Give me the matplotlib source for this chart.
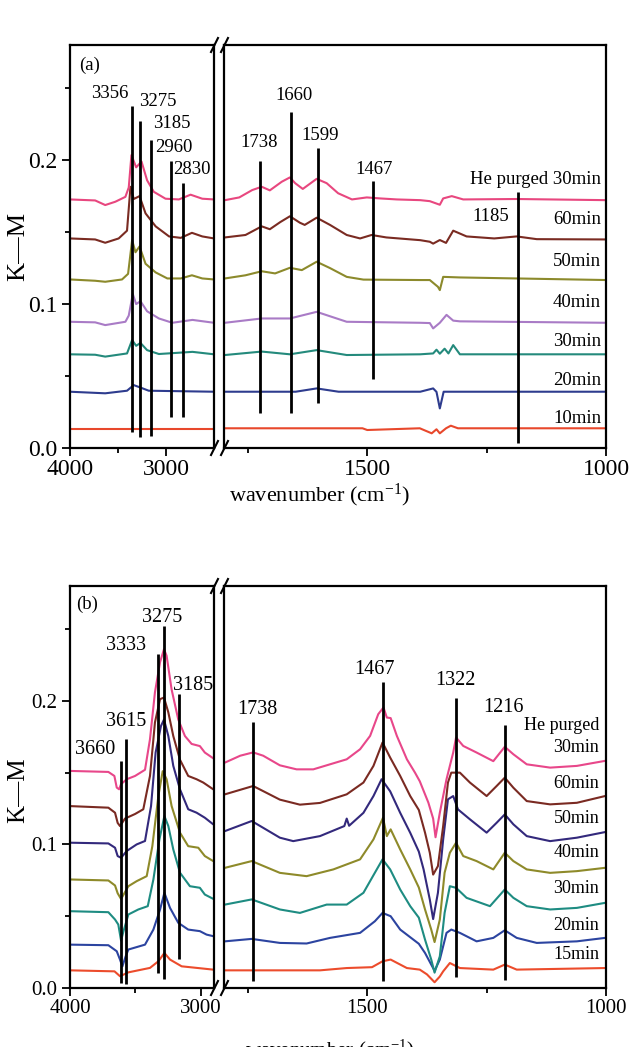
import matplotlib
matplotlib.use('Agg')
import matplotlib.pyplot as plt
from matplotlib.lines import Line2D
from matplotlib.ticker import FixedLocator

plt.rcParams['font.family'] = ['Liberation Serif', 'DejaVu Serif']
plt.rcParams['mathtext.fontset'] = 'custom'
plt.rcParams['mathtext.rm'] = 'Liberation Serif'
plt.rcParams['mathtext.it'] = 'Liberation Serif:italic'

# ---------------- panel (a) data ----------------
a_he_x = [4000, 3738, 3633, 3528, 3423, 3388, 3360, 3311, 3255, 3197, 3127, 3005, 2866, 2744, 2622, 2500,
          1798, 1768, 1741, 1721, 1704, 1679, 1662, 1651, 1635, 1606, 1585, 1561, 1532, 1501, 1473, 1438,
          1389, 1369, 1348, 1341, 1323, 1299, 1187, 1000]
a_he_y = [0.1727, 0.1720, 0.1688, 0.1711, 0.1745, 0.1810, 0.2035, 0.1950, 0.1990, 0.1860, 0.1780, 0.1732,
          0.1727, 0.1760, 0.1732, 0.1727,
          0.1722, 0.1741, 0.1792, 0.1815, 0.1790, 0.1850, 0.1880, 0.1840, 0.1800, 0.1870, 0.1840, 0.1770,
          0.1727, 0.1741, 0.1734, 0.1727, 0.1722, 0.1715, 0.1690, 0.1734, 0.1750, 0.1727, 0.1730, 0.1722]

a_60_x = [4000, 3738, 3633, 3493, 3406, 3370, 3336, 3276, 3213, 3108, 2968, 2846, 2730, 2622, 2500,
          1798, 1755, 1721, 1704, 1682, 1662, 1641, 1631, 1606, 1578, 1543, 1515, 1491, 1460, 1389,
          1369, 1362, 1348, 1335, 1320, 1292, 1234, 1187, 1145, 1000]
a_60_y = [0.1456, 0.1449, 0.1426, 0.1456, 0.1510, 0.1815, 0.1730, 0.1750, 0.1630, 0.1540, 0.1470, 0.1460,
          0.1495, 0.1470, 0.1456,
          0.1463, 0.1480, 0.1540, 0.1520, 0.1570, 0.1610, 0.1565, 0.1550, 0.1600, 0.1550, 0.1480, 0.1456,
          0.1480, 0.1463, 0.1444, 0.1433, 0.1420, 0.1445, 0.1425, 0.1510, 0.1470, 0.1456, 0.1470, 0.1451,
          0.1449]

a_50_x = [4000, 3738, 3633, 3458, 3395, 3353, 3318, 3276, 3213, 3108, 2986, 2846, 2730, 2622, 2500,
          1798, 1755, 1721, 1693, 1662, 1637, 1606, 1578, 1543, 1508, 1389, 1369, 1352, 1348, 1341, 1306,
          1000]
a_50_y = [0.1171, 0.1162, 0.1155, 0.1171, 0.1210, 0.1444, 0.1360, 0.1400, 0.1280, 0.1220, 0.1178, 0.1178,
          0.1200, 0.1178, 0.1171,
          0.1178, 0.1200, 0.1228, 0.1213, 0.1252, 0.1236, 0.1294, 0.1250, 0.1189, 0.1170, 0.1167, 0.1167,
          0.1120, 0.1097, 0.1189, 0.1185, 0.1167]

a_40_x = [4000, 3738, 3633, 3423, 3388, 3346, 3311, 3266, 3197, 3074, 2934, 2724, 2500,
          1798, 1721, 1662, 1606, 1543, 1389, 1369, 1362, 1348, 1334, 1320, 1306, 1000]
a_40_y = [0.0877, 0.0873, 0.0854, 0.0877, 0.0920, 0.1070, 0.1000, 0.1020, 0.0950, 0.0900, 0.0870, 0.0890,
          0.0870,
          0.0870, 0.0900, 0.0900, 0.0946, 0.0877, 0.0870, 0.0868, 0.0831, 0.0870, 0.0925, 0.0885, 0.0880,
          0.0870]

a_30_x = [4000, 3738, 3633, 3406, 3353, 3311, 3266, 3197, 3074, 2724, 2500,
          1798, 1721, 1662, 1606, 1543, 1389, 1362, 1355, 1348, 1338, 1330, 1320, 1306, 1000]
a_30_y = [0.0651, 0.0648, 0.0635, 0.0657, 0.0750, 0.0710, 0.0730, 0.0680, 0.0653, 0.0668, 0.0651,
          0.0646, 0.0670, 0.0651, 0.0680, 0.0646, 0.0651, 0.0657, 0.0683, 0.0655, 0.0690, 0.0657, 0.0715,
          0.0651, 0.0651]

a_20_x = [4000, 3633, 3406, 3336, 3266, 3180, 2500,
          1798, 1650, 1606, 1560, 1389, 1362, 1355, 1348, 1340, 1000]
a_20_y = [0.0391, 0.0380, 0.0398, 0.0437, 0.0420, 0.0398, 0.0391,
          0.0391, 0.0391, 0.0414, 0.0391, 0.0391, 0.0414, 0.0390, 0.0275, 0.0391, 0.0391]

a_10_x = [4000, 2500, 1800, 1510, 1500, 1390, 1365, 1355, 1348, 1335, 1325, 1310, 1000]
a_10_y = [0.0132, 0.0132, 0.0137, 0.0137, 0.0125, 0.0137, 0.0102, 0.0130, 0.0102, 0.0137, 0.0155, 0.0137,
          0.0137]

a_series_x = [a_10_x, a_20_x, a_30_x, a_40_x, a_50_x, a_60_x, a_he_x]
a_series_y = [a_10_y, a_20_y, a_30_y, a_40_y, a_50_y, a_60_y, a_he_y]
a_colors = ['#E8482C', '#2E3C8E', '#248A7C', '#A97BC6', '#8C8A2C', '#7A2B22', '#E8477F']
a_names = ['10min', '20min', '30min', '40min', '50min', '60min', 'He purged 30min']
a_name_y = [0.0206, 0.0468, 0.0743, 0.1012, 0.1294, 0.159, 0.1868]

# peak marker lines: position, bottom, top, label, label position
a_peak_left = [3353, 3266, 3161, 2944, 2818]
a_peak_left_lo = [0.0113, 0.0078, 0.0085, 0.0213, 0.0213]
a_peak_left_hi = [0.2375, 0.2270, 0.2140, 0.1995, 0.1840]
a_peak_left_lab = ['3356', '3275', '3185', '2960', '2830']
a_peak_left_lx = [3591, 3082, 2944, 2920, 2728]
a_peak_left_ly = [0.246, 0.241, 0.2255, 0.2088, 0.1935]

a_peak_right = [1724, 1660, 1603, 1488, 1184]
a_peak_right_lo = [0.0245, 0.0241, 0.0310, 0.0477, 0.0032]
a_peak_right_hi = [0.1993, 0.2336, 0.2085, 0.1854, 0.1780]
a_peak_right_lab = ['1738', '1660', '1599', '1467', '1185']
a_peak_right_lx = [1726, 1654, 1598, 1486, 1242]
a_peak_right_ly = [0.212, 0.2447, 0.2174, 0.1938, 0.1606]

# ---------------- panel (b) data ----------------
b_he_x = [4000, 3707, 3661, 3643, 3625, 3610, 3567, 3503, 3427, 3389, 3351, 3312, 3282, 3262, 3224, 3173,
          3122, 3071, 3008, 2970, 2906,
          1798, 1766, 1739, 1718, 1683, 1648, 1613, 1578, 1543, 1515, 1494, 1477, 1466, 1459, 1451, 1438,
          1417, 1400, 1390, 1372, 1362, 1357, 1348, 1334, 1320, 1314, 1299, 1271, 1236, 1212, 1194, 1166,
          1117, 1061, 1002]
b_he_y = [0.1512, 0.1505, 0.1477, 0.1396, 0.1384, 0.1420, 0.1454, 0.1477, 0.1520, 0.1733, 0.2060, 0.2270,
          0.2360, 0.2314, 0.2080, 0.1870, 0.1755, 0.1700, 0.1685, 0.1640, 0.1600,
          0.1570, 0.1618, 0.1641, 0.1618, 0.1551, 0.1523, 0.1523, 0.1558, 0.1593, 0.1663, 0.1756, 0.1907,
          0.1954, 0.1884, 0.1880, 0.1756, 0.1593, 0.1500, 0.1440, 0.1291, 0.1180, 0.1050, 0.1221, 0.1454,
          0.1640, 0.1745, 0.1686, 0.1640, 0.1580, 0.1680, 0.1628, 0.1558, 0.1535, 0.1547, 0.1582]

b_60_x = [4000, 3707, 3656, 3636, 3618, 3580, 3503, 3440, 3389, 3351, 3312, 3282, 3249, 3211, 3160, 3097,
          3033, 2982, 2906,
          1798, 1739, 1683, 1641, 1599, 1543, 1508, 1487, 1468, 1452, 1431, 1410, 1392, 1379, 1369, 1362,
          1352, 1341, 1331, 1324, 1306, 1285, 1250, 1229, 1212, 1194, 1166, 1117, 1061, 1002]
b_60_y = [0.1267, 0.1256, 0.1221, 0.1150, 0.1128, 0.1180, 0.1212, 0.1245, 0.1477, 0.1850, 0.2012, 0.2023,
          0.1920, 0.1755, 0.1590, 0.1477, 0.1454, 0.1431, 0.1384,
          0.1349, 0.1407, 0.1312, 0.1277, 0.1289, 0.1349, 0.1431, 0.1547, 0.1710, 0.1605, 0.1477, 0.1337,
          0.1240, 0.1082, 0.0942, 0.0790, 0.0849, 0.1128, 0.1431, 0.1500, 0.1500, 0.1431, 0.1337, 0.1407,
          0.1465, 0.1395, 0.1302, 0.1279, 0.1290, 0.1337]

b_50_x = [4000, 3707, 3656, 3636, 3610, 3567, 3491, 3427, 3381, 3346, 3305, 3282, 3249, 3211, 3160, 3097,
          3033, 2970, 2906,
          1798, 1742, 1683, 1655, 1599, 1548, 1543, 1538, 1508, 1487, 1470, 1452, 1431, 1410, 1392, 1382,
          1369, 1362, 1352, 1341, 1331, 1320, 1310, 1285, 1250, 1229, 1212, 1194, 1166, 1117, 1061, 1002]
b_50_y = [0.1012, 0.1007, 0.0977, 0.0919, 0.0907, 0.0954, 0.1000, 0.1024, 0.1267, 0.1640, 0.1825, 0.1870,
          0.1755, 0.1547, 0.1384, 0.1245, 0.1221, 0.1186, 0.1140,
          0.1093, 0.1163, 0.1047, 0.1023, 0.1058, 0.1128, 0.1180, 0.1130, 0.1220, 0.1337, 0.1454, 0.1370,
          0.1220, 0.1081, 0.0950, 0.0826, 0.0616, 0.0480, 0.0663, 0.1035, 0.1314, 0.1337, 0.1244, 0.1175,
          0.1082, 0.1151, 0.1209, 0.1140, 0.1058, 0.1023, 0.1047, 0.1086]

b_40_x = [4000, 3707, 3656, 3636, 3610, 3554, 3491, 3414, 3371, 3325, 3292, 3262, 3224, 3160, 3097, 3020,
          2970, 2906,
          1798, 1742, 1683, 1627, 1571, 1515, 1487, 1467, 1459, 1451, 1431, 1410, 1392, 1379, 1366, 1359,
          1348, 1338, 1327, 1314, 1299, 1271, 1236, 1212, 1194, 1166, 1117, 1061, 1002]
b_40_y = [0.0756, 0.0749, 0.0714, 0.0660, 0.0620, 0.0709, 0.0744, 0.0779, 0.0988, 0.1337, 0.1510, 0.1454,
          0.1268, 0.1082, 0.0988, 0.0977, 0.0919, 0.0884,
          0.0837, 0.0884, 0.0802, 0.0779, 0.0826, 0.0896, 0.1035, 0.1186, 0.1058, 0.1105, 0.0965, 0.0826,
          0.0700, 0.0547, 0.0407, 0.0320, 0.0477, 0.0803, 0.0942, 0.1012, 0.0919, 0.0884, 0.0826, 0.0942,
          0.0884, 0.0826, 0.0802, 0.0814, 0.0837]

b_30_x = [4000, 3707, 3656, 3631, 3610, 3590, 3554, 3478, 3406, 3363, 3317, 3279, 3249, 3211, 3160, 3084,
          3008, 2970, 2906,
          1798, 1742, 1683, 1641, 1585, 1543, 1508, 1484, 1468, 1452, 1431, 1410, 1392, 1379, 1366, 1359,
          1348, 1338, 1327, 1314, 1292, 1243, 1212, 1194, 1166, 1117, 1061, 1002]
b_30_y = [0.0535, 0.0528, 0.0477, 0.0442, 0.0330, 0.0400, 0.0512, 0.0547, 0.0570, 0.0756, 0.1035, 0.1198,
          0.1128, 0.0965, 0.0803, 0.0709, 0.0698, 0.0651, 0.0621,
          0.0581, 0.0617, 0.0547, 0.0523, 0.0581, 0.0581, 0.0663, 0.0803, 0.0896, 0.0826, 0.0686, 0.0570,
          0.0490, 0.0337, 0.0198, 0.0107, 0.0221, 0.0523, 0.0709, 0.0698, 0.0628, 0.0570, 0.0686, 0.0628,
          0.0570, 0.0547, 0.0558, 0.0593]

b_20_x = [4000, 3707, 3643, 3618, 3600, 3575, 3554, 3427, 3363, 3312, 3279, 3236, 3173, 3097, 3008, 2957,
          2906,
          1798, 1742, 1683, 1627, 1578, 1515, 1484, 1468, 1451, 1431, 1392, 1379, 1366, 1359, 1348, 1334,
          1324, 1306, 1271, 1236, 1212, 1187, 1145, 1061, 1002]
b_20_y = [0.0302, 0.0298, 0.0256, 0.0198, 0.0150, 0.0220, 0.0268, 0.0302, 0.0407, 0.0547, 0.0663, 0.0558,
          0.0454, 0.0407, 0.0396, 0.0372, 0.0361,
          0.0325, 0.0342, 0.0314, 0.0310, 0.0349, 0.0384, 0.0465, 0.0523, 0.0500, 0.0407, 0.0308, 0.0244,
          0.0163, 0.0120, 0.0198, 0.0384, 0.0407, 0.0384, 0.0325, 0.0349, 0.0402, 0.0349, 0.0314, 0.0325,
          0.0349]

b_15_x = [4000, 3660, 3618, 3554, 3389, 3325, 3279, 3236, 3147, 2906,
          1798, 1599, 1543, 1490, 1468, 1451, 1417, 1390, 1375, 1359, 1348, 1341, 1327, 1306, 1236, 1212,
          1187, 1002]
b_15_y = [0.0123, 0.0116, 0.0082, 0.0109, 0.0140, 0.0186, 0.0244, 0.0198, 0.0151, 0.0128,
          0.0123, 0.0123, 0.0139, 0.0145, 0.0186, 0.0198, 0.0139, 0.0128, 0.0095, 0.0040, 0.0080, 0.0116,
          0.0174, 0.0139, 0.0128, 0.0163, 0.0128, 0.0139]

b_series_x = [b_15_x, b_20_x, b_30_x, b_40_x, b_50_x, b_60_x, b_he_x]
b_series_y = [b_15_y, b_20_y, b_30_y, b_40_y, b_50_y, b_60_y, b_he_y]
b_colors = ['#EC4C2C', '#2C44A0', '#1E8C82', '#8E8A2A', '#33297C', '#7A2A22', '#E8478A']
b_names = ['15min', '20min', '30min', '40min', '50min', '60min', '30min', 'He purged']
b_name_y = [0.0232, 0.0435, 0.0691, 0.0942, 0.118, 0.1426, 0.1675, 0.1826]

b_peak_left = [3613, 3575, 3329, 3282, 3167]
b_peak_left_lo = [0.0035, 0.0030, 0.0105, 0.0063, 0.0202]
b_peak_left_hi = [0.1580, 0.1733, 0.2326, 0.2523, 0.2047]
b_peak_left_lab = ['3660', '3615', '3333', '3275', '3185']
b_peak_left_lx = [3809, 3570, 3576, 3296, 3062]
b_peak_left_ly = [0.1658, 0.1853, 0.2389, 0.258, 0.211]

b_peak_right = [1739, 1466, 1314, 1212]
b_peak_right_lo = [0.0047, 0.0047, 0.0077, 0.0058]
b_peak_right_hi = [0.1850, 0.2133, 0.2017, 0.1830]
b_peak_right_lab = ['1738', '1467', '1322', '1216']
b_peak_right_lx = [1730, 1484, 1316, 1215]
b_peak_right_ly = [0.1937, 0.2216, 0.214, 0.1954]

yticks_major = [0.0, 0.1, 0.2]
yticks_minor = [0.05, 0.15, 0.25]
ytick_labels = ['0.0', '0.1', '0.2']

W, H = 635, 1047
fig = plt.figure(figsize=(W / 100, H / 100), dpi=100)

SPINE_W = 1.6


def px_ax(x0, x1, ytop, ybot):
    return [x0 / W, 1 - ybot / H, (x1 - x0) / W, (ybot - ytop) / H]


def style(ax, left, tick_fs):
    for s in ax.spines.values():
        s.set_linewidth(SPINE_W)
    ax.set_ylim(0, 0.28)
    ax.tick_params(axis='both', which='major', direction='out', length=6, width=1.3,
                   labelsize=tick_fs, pad=2)
    ax.tick_params(axis='both', which='minor', direction='out', length=3.5, width=1.3)
    ax.tick_params(axis='x', top=False)
    if left:
        ax.yaxis.set_major_locator(FixedLocator(yticks_major))
        ax.yaxis.set_minor_locator(FixedLocator(yticks_minor))
        ax.set_yticklabels(ytick_labels)
        ax.tick_params(axis='y', right=False, pad=3)
    else:
        ax.tick_params(axis='y', left=False, right=False, labelleft=False, which='both')


def break_marks(xs_px, y_px):
    for xc in xs_px:
        l = Line2D([(xc - 3.5) / W, (xc + 3.5) / W], [1 - (y_px + 7) / H, 1 - (y_px - 7) / H],
                   transform=fig.transFigure, color='black', lw=1.5, clip_on=False)
        fig.add_artist(l)


def panel(ytop, ybot, left_lim, left_major, left_minor, sx, sy, colors,
          pl, pl_lo, pl_hi, pl_lab, pl_lx, pl_ly,
          pr, pr_lo, pr_hi, pr_lab, pr_lx, pr_ly, peak_fs, tick_fs):
    axl = fig.add_axes(px_ax(70, 214, ytop, ybot))
    axr = fig.add_axes(px_ax(224, 606, ytop, ybot))
    for ax in (axl, axr):
        for x, y, c in zip(sx, sy, colors):
            ax.plot(x, y, color=c, lw=1.5, zorder=2)
    axl.set_xlim(*left_lim)
    axr.set_xlim(1800, 1000)
    style(axl, True, tick_fs)
    style(axr, False, tick_fs)
    axl.xaxis.set_major_locator(FixedLocator(left_major))
    axl.xaxis.set_minor_locator(FixedLocator(left_minor))
    axl.set_xticklabels([str(v) for v in left_major])
    axr.xaxis.set_major_locator(FixedLocator([1500, 1000]))
    axr.xaxis.set_minor_locator(FixedLocator([1750, 1250]))
    axr.set_xticklabels(['1500', '1000'])
    axl.vlines(pl, pl_lo, pl_hi, colors='black', lw=2.0, zorder=3)
    axr.vlines(pr, pr_lo, pr_hi, colors='black', lw=2.0, zorder=3)
    for t, x, y in zip(pl_lab, pl_lx, pl_ly):
        axl.text(x, y, t, ha='center', va='center', fontsize=peak_fs, clip_on=False, zorder=4)
    for t, x, y in zip(pr_lab, pr_lx, pr_ly):
        axr.text(x, y, t, ha='center', va='center', fontsize=peak_fs, clip_on=False, zorder=4)
    break_marks([214.5, 224.5], ytop)
    break_marks([214.5, 224.5], ybot)
    return axl, axr


# ---------- panel (a)
a_l, a_r = panel(45, 448, (4000, 2500), [4000, 3000], [3500], a_series_x, a_series_y, a_colors,
                 a_peak_left, a_peak_left_lo, a_peak_left_hi, a_peak_left_lab, a_peak_left_lx, a_peak_left_ly,
                 a_peak_right, a_peak_right_lo, a_peak_right_hi, a_peak_right_lab, a_peak_right_lx,
                 a_peak_right_ly, 13.5, 17)
for n, y in zip(a_names, a_name_y):
    a_r.text(1010, y, n, ha='right', va='center', fontsize=13.5)
a_l.text(3801, 0.266, '(a)', ha='center', va='center', fontsize=13.5)
fig.text(319 / W, 1 - 495 / H, 'wavenumber (cm$^{-1}$)', ha='center', va='center', fontsize=16)
fig.text(18 / W, 1 - 246 / H, 'K—M', rotation=90, ha='center', va='center', fontsize=19)

# ---------- panel (b)
b_l, b_r = panel(586, 988, (4000, 2900), [4000, 3000], [3500], b_series_x, b_series_y, b_colors,
                 b_peak_left, b_peak_left_lo, b_peak_left_hi, b_peak_left_lab, b_peak_left_lx, b_peak_left_ly,
                 b_peak_right, b_peak_right_lo, b_peak_right_hi, b_peak_right_lab, b_peak_right_lx,
                 b_peak_right_ly, 14.5, 15)
for n, y in zip(b_names, b_name_y):
    b_r.text(1014, y, n, ha='right', va='center', fontsize=13)
b_l.text(3873, 0.2675, '(b)', ha='center', va='center', fontsize=13.5)
fig.text(330 / W, 1 - 1038 / H, 'wavenumber (cm$^{-1}$)', ha='center', va='top', fontsize=15)
fig.text(18 / W, 1 - 790 / H, 'K—M', rotation=90, ha='center', va='center', fontsize=18)

fig.savefig('out.png', dpi=100)
